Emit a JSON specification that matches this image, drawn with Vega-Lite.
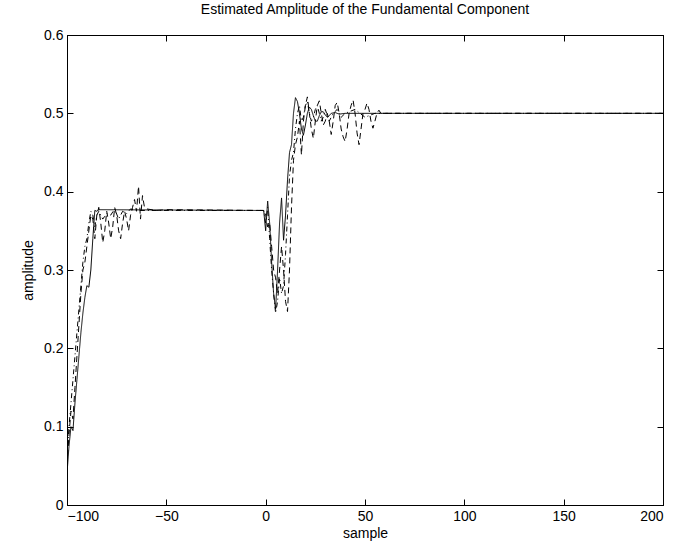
{
  "$schema": "https://vega.github.io/schema/vega-lite/v6.json",
  "autosize": "none",
  "width": 596,
  "height": 470,
  "padding": {"left": 67, "top": 35, "right": 25, "bottom": 40},
  "background": "white",
  "title": {"text": "Estimated Amplitude of the Fundamental Component", "font": "Liberation Sans", "fontSize": 14, "fontWeight": "normal", "color": "black", "offset": 11},
  "config": {
    "view": {"stroke": "black", "strokeWidth": 1},
    "axis": {"grid": false, "domainColor": "black", "tickColor": "black", "labelColor": "black", "titleColor": "black", "labelFont": "Liberation Sans", "titleFont": "Liberation Sans", "labelFontSize": 14, "titleFontSize": 14, "titleFontWeight": "normal", "tickSize": -6}
  },
  "data": {"values": [
    {"s":"solid","x":-100,"y":0.04},{"s":"solid","x":-99,"y":0.075},{"s":"solid","x":-98,"y":0.10},{"s":"solid","x":-97,"y":0.095},{"s":"solid","x":-96,"y":0.13},{"s":"solid","x":-95,"y":0.16},{"s":"solid","x":-94,"y":0.19},{"s":"solid","x":-93,"y":0.22},{"s":"solid","x":-92,"y":0.245},{"s":"solid","x":-91,"y":0.265},{"s":"solid","x":-90,"y":0.28},{"s":"solid","x":-89,"y":0.278},{"s":"solid","x":-88,"y":0.30},{"s":"solid","x":-87,"y":0.34},{"s":"solid","x":-86,"y":0.376},{"s":"solid","x":-85,"y":0.375},{"s":"solid","x":-84,"y":0.377},{"s":"solid","x":-1,"y":0.376},{"s":"solid","x":0,"y":0.35},{"s":"solid","x":1,"y":0.388},{"s":"solid","x":2,"y":0.36},{"s":"solid","x":3,"y":0.31},{"s":"solid","x":4,"y":0.27},{"s":"solid","x":5,"y":0.25},{"s":"solid","x":6,"y":0.30},{"s":"solid","x":7,"y":0.36},{"s":"solid","x":8,"y":0.392},{"s":"solid","x":9,"y":0.338},{"s":"solid","x":10,"y":0.37},{"s":"solid","x":11,"y":0.415},{"s":"solid","x":12,"y":0.45},{"s":"solid","x":13,"y":0.46},{"s":"solid","x":14,"y":0.50},{"s":"solid","x":15,"y":0.52},{"s":"solid","x":16,"y":0.515},{"s":"solid","x":17,"y":0.50},{"s":"solid","x":18,"y":0.48},{"s":"solid","x":19,"y":0.472},{"s":"solid","x":20,"y":0.485},{"s":"solid","x":21,"y":0.50},{"s":"solid","x":22,"y":0.508},{"s":"solid","x":23,"y":0.505},{"s":"solid","x":24,"y":0.497},{"s":"solid","x":25,"y":0.49},{"s":"solid","x":26,"y":0.49},{"s":"solid","x":27,"y":0.497},{"s":"solid","x":28,"y":0.502},{"s":"solid","x":29,"y":0.502},{"s":"solid","x":30,"y":0.498},{"s":"solid","x":31,"y":0.495},{"s":"solid","x":32,"y":0.497},{"s":"solid","x":33,"y":0.50},{"s":"solid","x":35,"y":0.501},{"s":"solid","x":37,"y":0.499},{"s":"solid","x":40,"y":0.50},{"s":"solid","x":200,"y":0.50},

    {"s":"dashed","x":-100,"y":0.05},{"s":"dashed","x":-99,"y":0.09},{"s":"dashed","x":-98,"y":0.12},{"s":"dashed","x":-97,"y":0.11},{"s":"dashed","x":-96,"y":0.15},{"s":"dashed","x":-95,"y":0.19},{"s":"dashed","x":-94,"y":0.23},{"s":"dashed","x":-93,"y":0.27},{"s":"dashed","x":-92,"y":0.30},{"s":"dashed","x":-91,"y":0.31},{"s":"dashed","x":-90,"y":0.33},{"s":"dashed","x":-89,"y":0.35},{"s":"dashed","x":-88,"y":0.37},{"s":"dashed","x":-87,"y":0.365},{"s":"dashed","x":-86,"y":0.34},{"s":"dashed","x":-85,"y":0.37},{"s":"dashed","x":-84,"y":0.38},{"s":"dashed","x":-83,"y":0.36},{"s":"dashed","x":-82,"y":0.335},{"s":"dashed","x":-81,"y":0.35},{"s":"dashed","x":-80,"y":0.375},{"s":"dashed","x":-79,"y":0.36},{"s":"dashed","x":-78,"y":0.34},{"s":"dashed","x":-77,"y":0.355},{"s":"dashed","x":-76,"y":0.38},{"s":"dashed","x":-75,"y":0.37},{"s":"dashed","x":-74,"y":0.35},{"s":"dashed","x":-73,"y":0.34},{"s":"dashed","x":-72,"y":0.36},{"s":"dashed","x":-71,"y":0.375},{"s":"dashed","x":-70,"y":0.365},{"s":"dashed","x":-69,"y":0.35},{"s":"dashed","x":-68,"y":0.37},{"s":"dashed","x":-67,"y":0.38},{"s":"dashed","x":-66,"y":0.39},{"s":"dashed","x":-65,"y":0.375},{"s":"dashed","x":-64,"y":0.407},{"s":"dashed","x":-63,"y":0.365},{"s":"dashed","x":-62,"y":0.395},{"s":"dashed","x":-61,"y":0.38},{"s":"dashed","x":-60,"y":0.378},{"s":"dashed","x":-55,"y":0.376},{"s":"dashed","x":-50,"y":0.377},{"s":"dashed","x":-1,"y":0.376},{"s":"dashed","x":0,"y":0.37},{"s":"dashed","x":1,"y":0.355},{"s":"dashed","x":2,"y":0.36},{"s":"dashed","x":3,"y":0.33},{"s":"dashed","x":4,"y":0.30},{"s":"dashed","x":5,"y":0.29},{"s":"dashed","x":6,"y":0.27},{"s":"dashed","x":7,"y":0.30},{"s":"dashed","x":8,"y":0.33},{"s":"dashed","x":9,"y":0.30},{"s":"dashed","x":10,"y":0.26},{"s":"dashed","x":11,"y":0.247},{"s":"dashed","x":12,"y":0.30},{"s":"dashed","x":13,"y":0.38},{"s":"dashed","x":14,"y":0.44},{"s":"dashed","x":15,"y":0.46},{"s":"dashed","x":16,"y":0.47},{"s":"dashed","x":17,"y":0.49},{"s":"dashed","x":18,"y":0.447},{"s":"dashed","x":19,"y":0.49},{"s":"dashed","x":20,"y":0.51},{"s":"dashed","x":21,"y":0.521},{"s":"dashed","x":22,"y":0.50},{"s":"dashed","x":23,"y":0.48},{"s":"dashed","x":24,"y":0.468},{"s":"dashed","x":25,"y":0.49},{"s":"dashed","x":26,"y":0.51},{"s":"dashed","x":27,"y":0.516},{"s":"dashed","x":28,"y":0.50},{"s":"dashed","x":29,"y":0.485},{"s":"dashed","x":30,"y":0.49},{"s":"dashed","x":31,"y":0.50},{"s":"dashed","x":32,"y":0.49},{"s":"dashed","x":33,"y":0.473},{"s":"dashed","x":34,"y":0.49},{"s":"dashed","x":35,"y":0.51},{"s":"dashed","x":36,"y":0.514},{"s":"dashed","x":37,"y":0.50},{"s":"dashed","x":38,"y":0.48},{"s":"dashed","x":39,"y":0.47},{"s":"dashed","x":40,"y":0.464},{"s":"dashed","x":41,"y":0.48},{"s":"dashed","x":42,"y":0.50},{"s":"dashed","x":43,"y":0.51},{"s":"dashed","x":44,"y":0.517},{"s":"dashed","x":45,"y":0.50},{"s":"dashed","x":46,"y":0.475},{"s":"dashed","x":47,"y":0.46},{"s":"dashed","x":48,"y":0.48},{"s":"dashed","x":49,"y":0.50},{"s":"dashed","x":50,"y":0.505},{"s":"dashed","x":51,"y":0.513},{"s":"dashed","x":52,"y":0.505},{"s":"dashed","x":53,"y":0.49},{"s":"dashed","x":54,"y":0.481},{"s":"dashed","x":55,"y":0.49},{"s":"dashed","x":56,"y":0.50},{"s":"dashed","x":57,"y":0.504},{"s":"dashed","x":58,"y":0.50},{"s":"dashed","x":60,"y":0.50},{"s":"dashed","x":200,"y":0.50},

    {"s":"dashdot","x":-100,"y":0.06},{"s":"dashdot","x":-99,"y":0.10},{"s":"dashdot","x":-98,"y":0.13},{"s":"dashdot","x":-97,"y":0.16},{"s":"dashdot","x":-96,"y":0.19},{"s":"dashdot","x":-95,"y":0.22},{"s":"dashdot","x":-94,"y":0.25},{"s":"dashdot","x":-93,"y":0.28},{"s":"dashdot","x":-92,"y":0.31},{"s":"dashdot","x":-91,"y":0.33},{"s":"dashdot","x":-90,"y":0.34},{"s":"dashdot","x":-89,"y":0.36},{"s":"dashdot","x":-88,"y":0.375},{"s":"dashdot","x":-87,"y":0.37},{"s":"dashdot","x":-86,"y":0.355},{"s":"dashdot","x":-85,"y":0.37},{"s":"dashdot","x":-84,"y":0.375},{"s":"dashdot","x":-82,"y":0.365},{"s":"dashdot","x":-80,"y":0.372},{"s":"dashdot","x":-78,"y":0.37},{"s":"dashdot","x":-76,"y":0.378},{"s":"dashdot","x":-74,"y":0.365},{"s":"dashdot","x":-72,"y":0.375},{"s":"dashdot","x":-70,"y":0.372},{"s":"dashdot","x":-68,"y":0.378},{"s":"dashdot","x":-66,"y":0.376},{"s":"dashdot","x":-1,"y":0.376},{"s":"dashdot","x":0,"y":0.36},{"s":"dashdot","x":1,"y":0.38},{"s":"dashdot","x":2,"y":0.34},{"s":"dashdot","x":3,"y":0.30},{"s":"dashdot","x":4,"y":0.27},{"s":"dashdot","x":5,"y":0.245},{"s":"dashdot","x":6,"y":0.26},{"s":"dashdot","x":7,"y":0.29},{"s":"dashdot","x":8,"y":0.27},{"s":"dashdot","x":9,"y":0.28},{"s":"dashdot","x":10,"y":0.32},{"s":"dashdot","x":11,"y":0.37},{"s":"dashdot","x":12,"y":0.42},{"s":"dashdot","x":13,"y":0.44},{"s":"dashdot","x":14,"y":0.45},{"s":"dashdot","x":15,"y":0.48},{"s":"dashdot","x":16,"y":0.50},{"s":"dashdot","x":17,"y":0.51},{"s":"dashdot","x":18,"y":0.49},{"s":"dashdot","x":19,"y":0.495},{"s":"dashdot","x":20,"y":0.51},{"s":"dashdot","x":21,"y":0.515},{"s":"dashdot","x":22,"y":0.50},{"s":"dashdot","x":23,"y":0.49},{"s":"dashdot","x":24,"y":0.495},{"s":"dashdot","x":25,"y":0.505},{"s":"dashdot","x":26,"y":0.51},{"s":"dashdot","x":27,"y":0.50},{"s":"dashdot","x":28,"y":0.49},{"s":"dashdot","x":29,"y":0.495},{"s":"dashdot","x":30,"y":0.505},{"s":"dashdot","x":32,"y":0.49},{"s":"dashdot","x":34,"y":0.50},{"s":"dashdot","x":36,"y":0.505},{"s":"dashdot","x":38,"y":0.495},{"s":"dashdot","x":40,"y":0.50},{"s":"dashdot","x":45,"y":0.505},{"s":"dashdot","x":50,"y":0.495},{"s":"dashdot","x":55,"y":0.50},{"s":"dashdot","x":200,"y":0.50}
  ]},
  "layer": [
    {
      "mark": {"type": "line", "color": "black", "strokeWidth": 1, "clip": true},
      "encoding": {
        "x": {"field": "x", "type": "quantitative", "scale": {"domain": [-100, 200], "nice": false, "zero": false}, "axis": {"title": "sample", "values": [-100, -50, 0, 50, 100, 150, 200], "labelPadding": 10, "titlePadding": 3}},
        "y": {"field": "y", "type": "quantitative", "scale": {"domain": [0, 0.6], "nice": false}, "axis": {"title": "amplitude", "values": [0, 0.1, 0.2, 0.3, 0.4, 0.5, 0.6], "format": "~g", "labelPadding": 10, "titlePadding": 8}},
        "detail": {"field": "s"},
        "strokeDash": {"field": "s", "type": "nominal", "scale": {"domain": ["solid", "dashed", "dashdot"], "range": [[1, 0], [6, 4], [5, 3, 1, 3]]}, "legend": null}
      }
    },
    {
      "mark": {"type": "line", "opacity": 0},
      "encoding": {
        "x": {"field": "x", "type": "quantitative", "axis": {"orient": "top", "labels": false, "title": null, "values": [-100, -50, 0, 50, 100, 150, 200]}},
        "y": {"field": "y", "type": "quantitative", "axis": {"orient": "right", "labels": false, "title": null, "values": [0, 0.1, 0.2, 0.3, 0.4, 0.5, 0.6]}},
        "detail": {"field": "s"}
      }
    }
  ],
  "resolve": {"axis": {"x": "independent", "y": "independent"}}
}
